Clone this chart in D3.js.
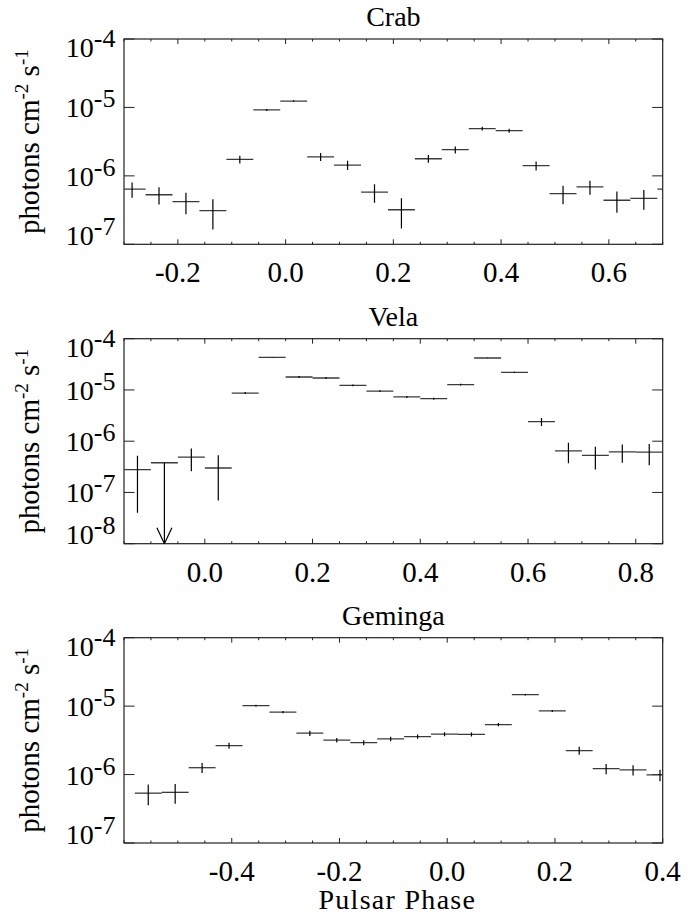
<!DOCTYPE html>
<html>
<head>
<meta charset="utf-8">
<script src="https://cdn.jsdelivr.net/npm/d3@7"></script>
<style>
  body { margin: 0; background: #fff; overflow: hidden; }
  svg { display: block; }
</style>
</head>
<body>
<div id="chart"></div>
<script>
// Crab: phase bin centres, flux, 1-sigma error (last bin is the wrap of the first)
const crabPhase = [-0.285, -0.235, -0.185, -0.135, -0.085, -0.035, 0.015, 0.065, 0.115, 0.165,
                   0.215, 0.265, 0.315, 0.365, 0.415, 0.465, 0.515, 0.565, 0.615, 0.665, 0.715];
const crabFlux = [6.4e-7, 5.3e-7, 4.2e-7, 3.1e-7, 1.74e-6, 9.2e-6, 1.24e-5, 1.9e-6, 1.44e-6, 5.8e-7,
                  3.2e-7, 1.78e-6, 2.41e-6, 4.9e-6, 4.57e-6, 1.41e-6, 5.5e-7, 6.9e-7, 4.4e-7, 4.7e-7, 6.4e-7];
const crabErr = [1.6e-7, 1.5e-7, 1.45e-7, 1.46e-7, 2.3e-7, 3e-7, 3e-7, 2.5e-7, 2.2e-7, 1.74e-7,
                 1.5e-7, 2.3e-7, 2.8e-7, 3e-7, 3e-7, 2.1e-7, 1.65e-7, 1.6e-7, 1.5e-7, 1.5e-7, 1.6e-7];

// Vela
const velaPhase = [-0.125, -0.075, -0.025, 0.025, 0.075, 0.125, 0.175, 0.225, 0.275, 0.325,
                   0.375, 0.425, 0.475, 0.525, 0.575, 0.625, 0.675, 0.725, 0.775, 0.825];
const velaFlux = [2.8e-7, 3.8e-7, 4.9e-7, 3.0e-7, 8.7e-6, 4.33e-5, 1.79e-5, 1.71e-5, 1.23e-5, 9.5e-6,
                  7.3e-6, 6.75e-6, 1.27e-5, 4.2e-5, 2.21e-5, 2.4e-6, 6.5e-7, 5.3e-7, 6.2e-7, 6.1e-7];
const velaErr = [2.4e-7, 0, 2.3e-7, 2.3e-7, 4e-7, 5e-7, 8e-7, 7e-7, 5e-7, 4e-7,
                 3e-7, 3e-7, 5e-7, 5e-7, 5e-7, 4.3e-7, 2.8e-7, 2.5e-7, 2.4e-7, 2.7e-7];
const velaUpper = [false, true, false, false, false, false, false, false, false, false,
                   false, false, false, false, false, false, false, false, false, false];

// Geminga
const gemPhase = [-0.555, -0.505, -0.455, -0.405, -0.355, -0.305, -0.255, -0.205, -0.155, -0.105,
                  -0.055, -0.005, 0.045, 0.095, 0.145, 0.195, 0.245, 0.295, 0.345, 0.395];
const gemFlux = [5.35e-7, 5.5e-7, 1.26e-6, 2.65e-6, 1.02e-5, 8.2e-6, 4.02e-6, 3.18e-6, 2.93e-6, 3.32e-6,
                 3.59e-6, 3.89e-6, 3.86e-6, 5.37e-6, 1.47e-5, 8.5e-6, 2.24e-6, 1.22e-6, 1.17e-6, 9.9e-7];
const gemErr = [1.8e-7, 1.75e-7, 2.1e-7, 2.7e-7, 3e-7, 3e-7, 3.5e-7, 2.5e-7, 2.5e-7, 2.5e-7,
                2.5e-7, 2.5e-7, 2.5e-7, 3e-7, 3.5e-7, 3e-7, 3e-7, 2.1e-7, 2e-7, 1.9e-7];

// tick labels
const crabTicks = [-0.2, 0.0, 0.2, 0.4, 0.6];
const velaTicks = [0.0, 0.2, 0.4, 0.6, 0.8];
const gemTicks = [-0.4, -0.2, 0.0, 0.2, 0.4];
const crabDecades = [-4, -5, -6, -7];
const velaDecades = [-4, -5, -6, -7, -8];
const gemDecades = [-4, -5, -6, -7];

const binHalf = 0.025;

const width = 694, height = 915;
const left = 124, right = 662.7;

const svg = d3.select("#chart").append("svg")
    .attr("width", width)
    .attr("height", height)
    .attr("font-family", "'Liberation Serif', 'Times New Roman', Times, 'DejaVu Serif', serif");

svg.append("rect").attr("width", width).attr("height", height).attr("fill", "#fff");

const panels = [
    { name: "Crab", phase: crabPhase, flux: crabFlux, err: crabErr, upper: null,
      xDomain: [-0.3, 0.7], decades: crabDecades, ticks: crabTicks, top: 39, bottom: 244.3 },
    { name: "Vela", phase: velaPhase, flux: velaFlux, err: velaErr, upper: velaUpper,
      xDomain: [-0.15, 0.85], decades: velaDecades, ticks: velaTicks, top: 338.7, bottom: 543.7 },
    { name: "Geminga", phase: gemPhase, flux: gemFlux, err: gemErr, upper: null,
      xDomain: [-0.6, 0.4], decades: gemDecades, ticks: gemTicks, top: 637.7, bottom: 843 }
];

panels.forEach(function(p, i) {
    const yMin = Math.pow(10, d3.min(p.decades));
    const yMax = Math.pow(10, d3.max(p.decades));
    const x = d3.scaleLinear().domain(p.xDomain).range([left, right]);
    const y = d3.scaleLog().domain([yMin, yMax]).range([p.bottom, p.top]);

    const g = svg.append("g");

    // clip to the plot box
    const clipId = "clip" + i;
    svg.append("clipPath").attr("id", clipId)
        .append("rect")
        .attr("x", left).attr("y", p.top)
        .attr("width", right - left).attr("height", p.bottom - p.top);

    // title
    g.append("text")
        .attr("x", (left + right) / 2)
        .attr("y", p.top - 13)
        .attr("text-anchor", "middle")
        .attr("font-size", 28)
        .text(p.name);

    // box
    g.append("rect")
        .attr("x", left).attr("y", p.top)
        .attr("width", right - left).attr("height", p.bottom - p.top)
        .attr("fill", "none")
        .attr("stroke", "#222")
        .attr("stroke-width", 1.2);

    // x ticks, minor every 0.05, major at labels
    const minor = x.ticks(20);
    g.selectAll(".xminor").data(minor).join("g").each(function(d) {
        const major = p.ticks.some(t => Math.abs(t - d) < 1e-9);
        const len = major ? 5 : 2.5;
        const sel = d3.select(this);
        sel.append("line").attr("x1", x(d)).attr("x2", x(d))
            .attr("y1", p.bottom).attr("y2", p.bottom - len)
            .attr("stroke", "#222");
        sel.append("line").attr("x1", x(d)).attr("x2", x(d))
            .attr("y1", p.top).attr("y2", p.top + len)
            .attr("stroke", "#222");
    });

    g.selectAll(".xlabel").data(p.ticks).join("text")
        .attr("x", d => x(d))
        .attr("y", p.bottom + 38)
        .attr("text-anchor", "middle")
        .attr("font-size", 29)
        .text(d => d3.format(".1f")(d).replace("\u2212", "-"));

    // y ticks at decades
    g.selectAll(".ytick").data(p.decades).join("g").each(function(e) {
        const yy = y(Math.pow(10, e));
        const sel = d3.select(this);
        sel.append("line").attr("x1", left).attr("x2", left + 10.5)
            .attr("y1", yy).attr("y2", yy).attr("stroke", "#222");
        sel.append("line").attr("x1", right).attr("x2", right - 10.5)
            .attr("y1", yy).attr("y2", yy).attr("stroke", "#222");
        const base = Math.min(Math.max(yy + 10, p.top + 18), p.bottom + 0.5);
        const t = sel.append("text")
            .attr("x", 115.5)
            .attr("y", base)
            .attr("text-anchor", "end")
            .attr("font-size", 28);
        t.append("tspan").text("10");
        t.append("tspan").attr("dy", -10).attr("font-size", 26).text(String(e));
    });

    // y axis title
    const cy = (p.top + p.bottom) / 2;
    const yt = g.append("text")
        .attr("transform", `translate(38.5,${cy}) rotate(-90)`)
        .attr("text-anchor", "middle")
        .attr("font-size", 29);
    yt.append("tspan").text("photons cm");
    yt.append("tspan").attr("dy", -11).attr("font-size", 19).text("-2");
    yt.append("tspan").attr("dy", 11).text(" s");
    yt.append("tspan").attr("dy", -11).attr("font-size", 19).text("-1");

    // data points: horizontal bin bar + vertical error bar
    const pts = p.phase.map((ph, k) => ({
        ph: ph, v: p.flux[k], e: p.err[k], ul: p.upper ? p.upper[k] : false
    }));

    const data = g.append("g").attr("clip-path", `url(#${clipId})`);

    data.selectAll(".hbar").data(pts).join("line")
        .attr("x1", d => x(d.ph - binHalf))
        .attr("x2", d => x(d.ph + binHalf))
        .attr("y1", d => y(d.v))
        .attr("y2", d => y(d.v))
        .attr("stroke", "#3a3a3a")
        .attr("stroke-width", 1.3);

    data.selectAll(".vbar").data(pts.filter(d => !d.ul)).join("line")
        .attr("x1", d => x(d.ph))
        .attr("x2", d => x(d.ph))
        .attr("y1", d => y(d.v + d.e))
        .attr("y2", d => y(Math.max(d.v - d.e, yMin / 10)))
        .attr("stroke", "#000")
        .attr("stroke-width", 1.2);

    // upper limits: arrow down to the bottom of the box
    const ul = pts.filter(d => d.ul);
    data.selectAll(".ul").data(ul).join("line")
        .attr("x1", d => x(d.ph)).attr("x2", d => x(d.ph))
        .attr("y1", d => y(d.v)).attr("y2", p.bottom)
        .attr("stroke", "#000").attr("stroke-width", 1.2);
    data.selectAll(".ulhead").data(ul).join("path")
        .attr("d", d => `M${x(d.ph) - 7.5},${p.bottom - 16} L${x(d.ph)},${p.bottom} L${x(d.ph) + 7.5},${p.bottom - 16}`)
        .attr("fill", "none").attr("stroke", "#000").attr("stroke-width", 1.2);

    if (i === panels.length - 1) {
        svg.append("text")
            .attr("x", (left + right) / 2 + 4)
            .attr("y", 909)
            .attr("text-anchor", "middle")
            .attr("font-size", 28)
            .attr("letter-spacing", 1.3)
            .text("Pulsar Phase");
    }
});
</script>
</body>
</html>
